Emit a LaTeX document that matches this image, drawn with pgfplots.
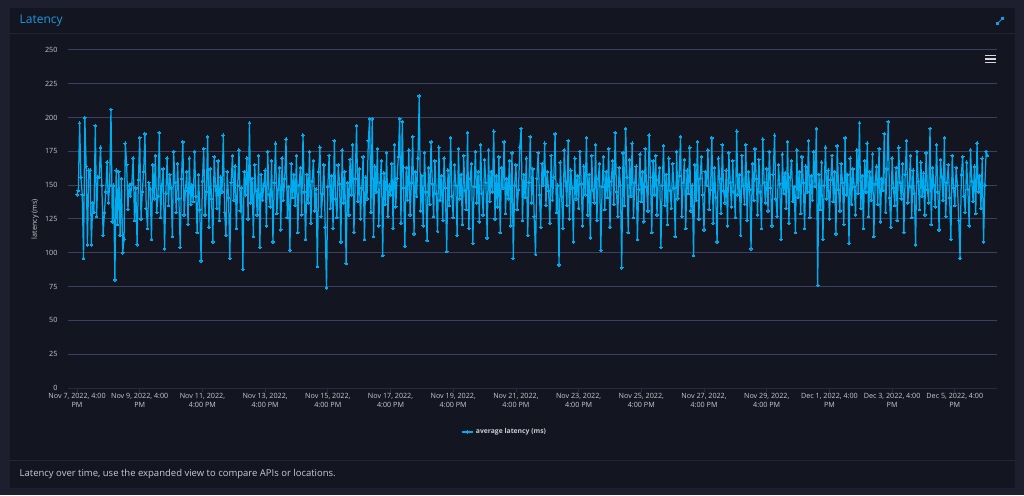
\documentclass[border=0pt]{standalone}
\usepackage{fontspec}
\setmainfont{Open Sans}
\usepackage{pgfplots}
\pgfplotsset{compat=1.18}
\usepackage{pgfplotstable}

\definecolor{outerbg}{RGB}{29,31,46}
\definecolor{panelbg}{RGB}{19,21,32}
\definecolor{sepcol}{RGB}{34,37,54}
\definecolor{gridcol}{RGB}{60,64,96}
\definecolor{axiscol}{RGB}{40,43,62}
\definecolor{txt}{RGB}{201,202,211}
\definecolor{titleblue}{RGB}{27,155,224}
\definecolor{linecol}{RGB}{0,172,240}
\definecolor{hamb}{RGB}{215,216,224}

% hourly average latency (ms), starting Nov 7, 2022, 4:00 PM
\pgfplotstableread[row sep=\\]{
v\\
143\\146\\196\\156\\143\\96\\200\\164\\106\\161\\161\\106\\137\\130\\194\\127\\156\\156\\178\\150\\113\\130\\145\\167\\
137\\150\\206\\123\\150\\80\\161\\121\\160\\113\\155\\100\\110\\181\\165\\132\\150\\142\\151\\170\\124\\148\\106\\154\\
185\\125\\145\\160\\188\\133\\118\\152\\147\\110\\165\\140\\172\\130\\142\\189\\126\\150\\162\\103\\144\\170\\135\\158\\
148\\112\\175\\152\\130\\166\\140\\104\\155\\182\\128\\146\\160\\121\\170\\136\\150\\138\\175\\142\\115\\158\\132\\94\\
153\\177\\128\\145\\186\\119\\162\\140\\108\\171\\150\\133\\168\\124\\156\\145\\187\\130\\113\\160\\141\\96\\152\\172\\
139\\164\\118\\150\\176\\131\\148\\88\\160\\143\\170\\125\\196\\137\\155\\112\\165\\146\\128\\172\\104\\158\\139\\150\\
161\\120\\175\\143\\134\\168\\108\\152\\181\\129\\147\\163\\117\\170\\139\\155\\184\\126\\149\\102\\166\\141\\158\\135\\
172\\115\\150\\163\\128\\187\\145\\110\\158\\137\\175\\122\\153\\168\\131\\147\\90\\160\\178\\127\\144\\165\\119\\74\\
149\\172\\133\\157\\118\\183\\140\\126\\165\\151\\108\\176\\137\\160\\92\\152\\128\\169\\143\\180\\115\\155\\194\\138\\
162\\125\\148\\171\\110\\156\\140\\183\\199\\130\\199\\112\\164\\145\\177\\120\\152\\168\\98\\159\\136\\174\\127\\150\\
143\\166\\118\\180\\134\\155\\171\\199\\122\\197\\148\\105\\163\\139\\176\\128\\152\\186\\114\\160\\142\\170\\216\\131\\
157\\120\\174\\145\\109\\163\\136\\182\\151\\127\\168\\144\\116\\178\\139\\157\\124\\170\\148\\101\\161\\135\\185\\142\\
126\\165\\150\\113\\177\\140\\158\\121\\172\\146\\132\\189\\118\\155\\166\\107\\149\\175\\137\\160\\123\\180\\144\\128\\
169\\152\\111\\176\\138\\160\\145\\190\\125\\157\\134\\171\\115\\163\\148\\182\\129\\155\\140\\168\\120\\174\\96\\150\\
165\\132\\147\\178\\192\\124\\158\\141\\170\\113\\152\\186\\137\\162\\127\\99\\155\\174\\143\\119\\166\\150\\181\\135\\
160\\146\\122\\172\\139\\156\\188\\130\\150\\91\\167\\142\\118\\176\\153\\135\\183\\125\\161\\148\\108\\170\\140\\157\\
133\\175\\151\\120\\164\\143\\185\\128\\158\\111\\172\\146\\137\\180\\124\\155\\166\\102\\149\\171\\132\\160\\141\\177\\
119\\153\\168\\136\\189\\145\\127\\163\\150\\89\\174\\135\\192\\156\\115\\169\\142\\181\\126\\152\\164\\110\\147\\173\\
138\\160\\123\\177\\149\\131\\187\\156\\115\\168\\143\\172\\128\\154\\163\\104\\150\\179\\135\\158\\121\\170\\146\\133\\
166\\148\\112\\175\\140\\157\\186\\127\\152\\169\\118\\161\\144\\178\\131\\150\\98\\165\\139\\182\\125\\155\\171\\143\\
117\\160\\150\\176\\132\\147\\185\\122\\163\\141\\108\\170\\155\\129\\180\\146\\137\\161\\120\\174\\152\\134\\168\\145\\
126\\190\\143\\158\\113\\172\\150\\136\\180\\124\\160\\147\\103\\166\\139\\177\\155\\128\\169\\145\\118\\184\\152\\137\\
162\\131\\175\\148\\120\\158\\187\\140\\127\\165\\151\\110\\173\\144\\159\\133\\182\\122\\156\\168\\138\\149\\115\\176\\
141\\160\\129\\171\\152\\118\\164\\145\\183\\126\\157\\139\\175\\149\\192\\76\\158\\132\\167\\110\\150\\178\\140\\161\\
125\\154\\172\\138\\160\\114\\179\\147\\131\\166\\152\\121\\185\\143\\158\\107\\170\\136\\162\\149\\128\\176\\144\\196\\
133\\157\\118\\168\\145\\181\\127\\160\\139\\173\\112\\151\\164\\136\\177\\123\\155\\146\\188\\130\\162\\197\\141\\119\\
170\\148\\135\\163\\124\\178\\152\\140\\166\\115\\158\\183\\137\\149\\172\\126\\161\\144\\106\\175\\153\\132\\167\\142\\
159\\128\\174\\147\\137\\192\\121\\163\\150\\134\\180\\145\\117\\169\\156\\139\\185\\127\\152\\165\\141\\110\\172\\148\\
135\\163\\150\\124\\96\\158\\171\\142\\130\\167\\147\\120\\176\\153\\138\\164\\129\\181\\145\\157\\133\\170\\108\\150\\
175\\172\\
}\latency

\begin{document}
\begin{tikzpicture}[x=1pt,y=1pt]
\useasboundingbox (0,0) rectangle (1024,495);
\fill[outerbg] (0,0) rectangle (1024,495);
\fill[panelbg] (10,7) rectangle (1015,487);
\draw[sepcol, line width=1pt] (10,461.5) -- (1015,461.5);
\draw[sepcol, line width=1pt] (10,35) -- (1015,35);
\node[anchor=west, text=titleblue, font=\fontsize{12}{14}\selectfont, inner sep=0pt] at (19.5,474.5) {Latency};
\node[anchor=west, text=txt, font=\fontsize{9.5}{11}\selectfont, inner sep=0pt] at (19.5,21) {Latency over time, use the expanded view to compare APIs or locations.};
% menu icon
\fill[hamb] (984.5,438.8) rectangle (995.5,440.3);
\fill[hamb] (984.5,435.3) rectangle (995.5,436.8);
\fill[hamb] (984.5,431.8) rectangle (995.5,433.3);
% expand icon
\draw[titleblue, line width=1pt] (996.5,470.5) -- (1004,478);
\fill[titleblue] (996.3,470.3) rectangle (999.3,473.3);
\fill[titleblue] (1001.2,475.2) rectangle (1004.2,478.2);

\begin{axis}[
  at={(68pt,107pt)}, anchor=south west,
  scale only axis, width=929pt, height=338pt,
  xmin=-6.9, xmax=704.3, ymin=0, ymax=250,
  axis lines*=left,
  x axis line style={draw=axiscol, line width=1pt},
  y axis line style={draw=none},
  ytick={25,50,...,250},
  extra y ticks={0},
  extra y tick style={grid=none},
  ymajorgrids,
  grid style={gridcol, line width=1pt},
  ytick style={draw=none},
  xtick style={draw=axiscol, line width=0.8pt},
  tick align=outside,
  major tick length=4pt,
  xtick={0,48,...,672},
  xticklabels={
    {Nov 7, 2022, 4:00\\PM},
    {Nov 9, 2022, 4:00\\PM},
    {Nov 11, 2022,\\4:00 PM},
    {Nov 13, 2022,\\4:00 PM},
    {Nov 15, 2022,\\4:00 PM},
    {Nov 17, 2022,\\4:00 PM},
    {Nov 19, 2022,\\4:00 PM},
    {Nov 21, 2022,\\4:00 PM},
    {Nov 23, 2022,\\4:00 PM},
    {Nov 25, 2022,\\4:00 PM},
    {Nov 27, 2022,\\4:00 PM},
    {Nov 29, 2022,\\4:00 PM},
    {Dec 1, 2022, 4:00\\PM},
    {Dec 3, 2022, 4:00\\PM},
    {Dec 5, 2022, 4:00\\PM}},
  xticklabel style={font=\fontsize{7.2}{8.6}\selectfont, text=txt, align=center, inner sep=1pt},
  yticklabel style={font=\fontsize{7.2}{8.6}\selectfont, text=txt, xshift=-3pt},
  /pgf/number format/assume math mode=true,
  ylabel={latency (ms)},
  ylabel style={at={(axis description cs:-0.0355,0.5)}, anchor=center, font=\fontsize{7.2}{8.6}\selectfont, text=txt},
  legend style={at={(axis description cs:0.47,-0.13)}, anchor=center, draw=none, fill=none, text=txt, font=\bfseries\fontsize{6.8}{8}\selectfont, inner sep=1pt},
  legend image code/.code={\draw[mark repeat=2,mark phase=2] plot coordinates {(0cm,0cm)(0.2cm,0cm)(0.4cm,0cm)};},
]
\addplot[color=linecol, line width=1.25pt, line join=round, mark=*, mark size=1.35pt, mark options={fill=linecol, draw=linecol, line width=0pt}]
  table[x expr=\coordindex, y=v] {\latency};
\addlegendentry{average latency (ms)}
\end{axis}
\end{tikzpicture}
\end{document}
